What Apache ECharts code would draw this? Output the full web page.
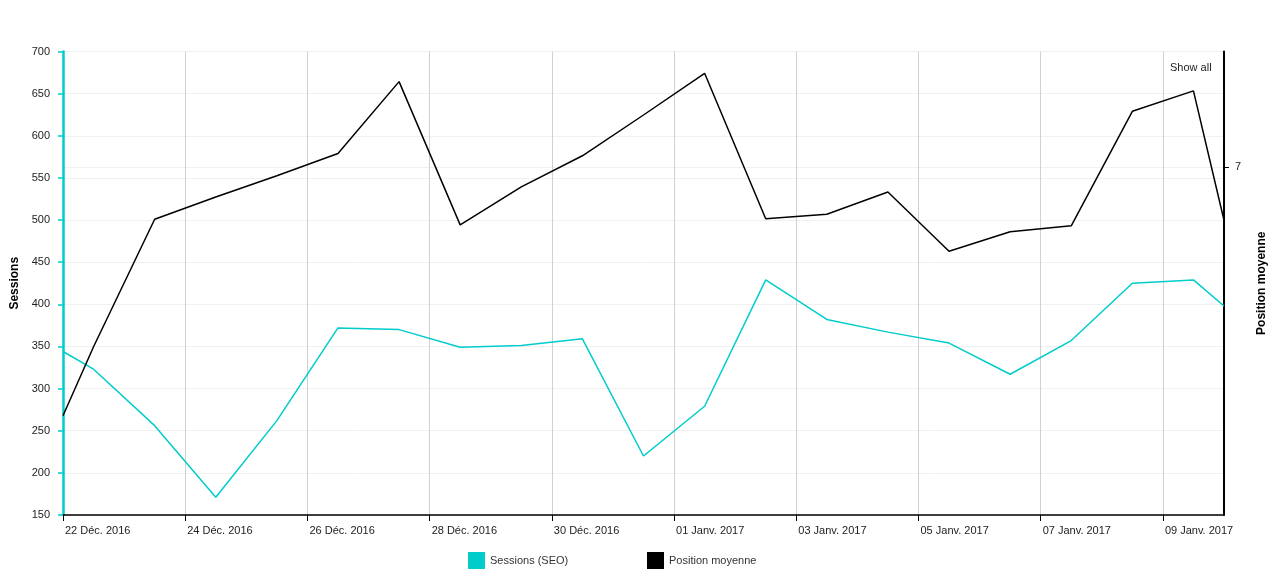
<!DOCTYPE html>
<html>
<head>
<meta charset="utf-8">
<script src="https://cdn.jsdelivr.net/npm/echarts@6/dist/echarts.min.js"></script>
<style>
html,body{margin:0;padding:0;background:#fff;}
#chart{width:1280px;height:579px;}
</style>
</head>
<body>
<div id="chart"></div>
<script>
// ---- data ----
const dates = [
  '2016-12-22T00', '2016-12-22T12', '2016-12-23T12', '2016-12-24T12', '2016-12-25T12',
  '2016-12-26T12', '2016-12-27T12', '2016-12-28T12', '2016-12-29T12', '2016-12-30T12',
  '2016-12-31T12', '2017-01-01T12', '2017-01-02T12', '2017-01-03T12', '2017-01-04T12',
  '2017-01-05T12', '2017-01-06T12', '2017-01-07T12', '2017-01-08T12', '2017-01-09T12',
  '2017-01-10T00'
];
const sessions = [344, 323, 256, 171, 262, 372, 370, 349, 351, 359, 220, 279, 429, 382, 367, 354, 317, 357, 425, 429, 398];
const position = [7.536, 7.387, 7.112, 7.064, 7.018, 6.970, 6.815, 7.124, 7.042, 6.975, 6.887, 6.797, 7.111, 7.101, 7.053, 7.181, 7.139, 7.126, 6.879, 6.835, 7.114];
const tickDates = ['2016-12-22T00', '2016-12-24T00', '2016-12-26T00', '2016-12-28T00', '2016-12-30T00',
  '2017-01-01T00', '2017-01-03T00', '2017-01-05T00', '2017-01-07T00', '2017-01-09T00'];
const tickLabels = ['22 Déc. 2016', '24 Déc. 2016', '26 Déc. 2016', '28 Déc. 2016', '30 Déc. 2016',
  '01 Janv. 2017', '03 Janv. 2017', '05 Janv. 2017', '07 Janv. 2017', '09 Janv. 2017'];
const seriesNames = ['Sessions (SEO)', 'Position moyenne'];
const sessionTicks = [150, 200, 250, 300, 350, 400, 450, 500, 550, 600, 650, 700];
const positionTicks = [7];

// ---- helpers ----
const BASE = Date.UTC(2016, 11, 22);
function dayIndex(s) {
  const [d, h] = s.split('T');
  const [y, m, dd] = d.split('-').map(Number);
  return (Date.UTC(y, m - 1, dd, Number(h || 0)) - BASE) / 86400000;
}
const xs = dates.map(dayIndex);
const tickXs = tickDates.map(dayIndex);
const labelFor = {};
tickXs.forEach((v, i) => { labelFor[v] = tickLabels[i]; });

const FONT = '"Liberation Sans", Arial, sans-serif';
const chart = echarts.init(document.getElementById('chart'));
chart.setOption({
  animation: false,
  textStyle: { fontFamily: FONT },
  grid: { left: 63, right: 56, top: 51.5, bottom: 64, containLabel: false },
  legend: [
    { data: [seriesNames[0]], left: 463, top: 547, icon: 'rect', itemWidth: 17, itemHeight: 17, itemGap: 5,
      textStyle: { fontSize: 11, color: '#333', fontFamily: FONT } },
    { data: [seriesNames[1]], left: 642, top: 547, icon: 'rect', itemWidth: 17, itemHeight: 17, itemGap: 5,
      textStyle: { fontSize: 11, color: '#333', fontFamily: FONT } }
  ],
  graphic: [
    { type: 'text', left: 1170, top: 62, style: { text: 'Show all', fontSize: 11, fill: '#222', fontFamily: FONT } }
  ],
  xAxis: {
    type: 'value',
    min: xs[0],
    max: xs[xs.length - 1],
    axisLine: { show: true, onZero: false, lineStyle: { color: '#000', width: 1.5 } },
    axisTick: { show: true, length: 6, customValues: tickXs, lineStyle: { color: '#000' } },
    axisLabel: {
      customValues: tickXs,
      formatter: v => labelFor[v] || '',
      align: 'left', margin: 10, fontSize: 11, color: '#222', fontFamily: FONT,
      padding: [0, 0, 0, 2]
    },
    splitLine: { show: true, lineStyle: { color: '#d0d0d0', width: 1 } }
  },
  yAxis: [
    {
      type: 'value', position: 'left', min: 150, max: 700, interval: 50,
      name: 'Sessions', nameLocation: 'middle', nameRotate: 90, nameGap: 40,
      nameTextStyle: { fontWeight: 'bold', fontSize: 12, color: '#000', fontFamily: FONT },
      axisLine: { show: true, lineStyle: { color: '#00cccc', width: 2.5 } },
      axisTick: { show: true, length: 5, lineStyle: { color: '#00cccc', width: 1.5 } },
      axisLabel: { fontSize: 11, color: '#222', margin: 13, fontFamily: FONT,
        formatter: v => sessionTicks.indexOf(v) >= 0 ? String(v) : '' },
      splitLine: { show: true, lineStyle: { color: '#f0f0f0', width: 1 } }
    },
    {
      type: 'value', position: 'right', inverse: true, min: 6.75, max: 7.75,
      name: 'Position moyenne', nameLocation: 'middle', nameRotate: 90, nameGap: 32,
      nameTextStyle: { fontWeight: 'bold', fontSize: 12, color: '#000', fontFamily: FONT },
      axisLine: { show: true, lineStyle: { color: '#000', width: 2 } },
      axisTick: { show: true, length: 5, customValues: positionTicks, lineStyle: { color: '#000' } },
      axisLabel: { customValues: positionTicks, fontSize: 11, color: '#222', margin: 11, fontFamily: FONT },
      splitLine: { show: true, lineStyle: { color: '#f0f0f0', width: 1 } }
    }
  ],
  series: [
    {
      name: seriesNames[0], type: 'line', yAxisIndex: 0, showSymbol: false, symbol: 'none',
      data: xs.map((x, i) => [x, sessions[i]]),
      itemStyle: { color: '#00cccc' },
      lineStyle: { color: '#00cccc', width: 1.5 }
    },
    {
      name: seriesNames[1], type: 'line', yAxisIndex: 1, showSymbol: false, symbol: 'none',
      data: xs.map((x, i) => [x, position[i]]),
      itemStyle: { color: '#000' },
      lineStyle: { color: '#000', width: 1.5 }
    }
  ]
});
</script>
</body>
</html>
